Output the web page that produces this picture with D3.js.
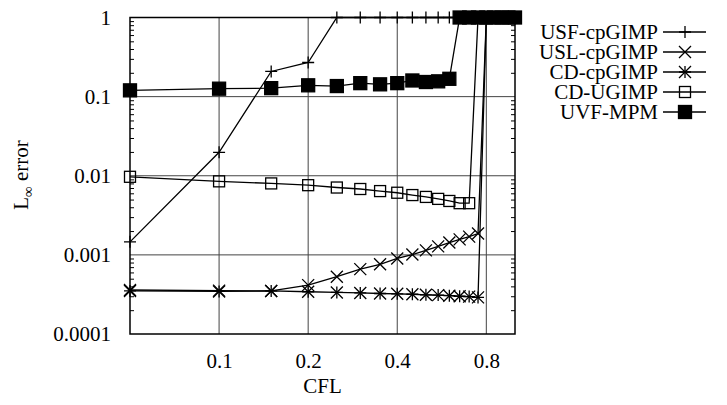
<!DOCTYPE html>
<html>
<head>
<meta charset="utf-8">
<script src="https://cdn.jsdelivr.net/npm/d3@7"></script>
<style>
	body { margin: 0; background: #fff; }
	svg { display: block; font-family: "Liberation Serif", "DejaVu Serif", serif; }
	.grid line { stroke: #444; stroke-width: 1; }
	.series path { fill: none; stroke: #000; stroke-width: 1.3; }
</style>
</head>
<body>
<div id="chart"></div>
<script>
"use strict";

const width = 727, height = 405;
const margin = { left: 130, right: 212, top: 17.5, bottom: 71 };
const fontSize = 21;

//  Chart data
const cfl = [0.05, 0.1, 0.15, 0.2, 0.25, 0.3, 0.35, 0.4, 0.45, 0.5, 0.55, 0.6, 0.65, 0.7, 0.75, 0.8, 0.85, 0.9, 0.95, 1.0];
const usfCpgimp = [0.00146, 0.0198, 0.208, 0.27, 1, 1, 1, 1, 1, 1, 1, 1, 1, 1, 1, 1, 1, 1, 1, 1];
const uslCpgimp = [0.00036, 0.000353, 0.00035, 0.000415, 0.00053, 0.00066, 0.00076, 0.0009, 0.00101, 0.00114, 0.00128, 0.00143, 0.00157, 0.0017, 0.00186, 1, 1, 1, 1, 1];
const cdCpgimp = [0.00035, 0.000345, 0.00035, 0.000342, 0.000335, 0.00033, 0.000325, 0.000322, 0.000318, 0.000313, 0.00031, 0.000305, 0.0003, 0.000297, 0.00029, 1, 1, 1, 1, 1];
const cdUgimp = [0.0097, 0.0085, 0.008, 0.0076, 0.0071, 0.0068, 0.0064, 0.0061, 0.0057, 0.0054, 0.0051, 0.0048, 0.0045, 0.0045, 1, 1, 1, 1, 1, 1];
const uvfMpm = [0.12, 0.126, 0.128, 0.139, 0.136, 0.148, 0.143, 0.148, 0.16, 0.153, 0.156, 0.168, 1, 1, 1, 1, 1, 1, 1, 1];

const xTicks = [0.1, 0.2, 0.4, 0.8];
const yTicks = [0.0001, 0.001, 0.01, 0.1, 1];
const yTickLabels = ['0.0001', '0.001', '0.01', '0.1', '1'];

const series = [
	{ name: 'USF-cpGIMP', values: usfCpgimp, marker: 'plus' },
	{ name: 'USL-cpGIMP', values: uslCpgimp, marker: 'cross' },
	{ name: 'CD-cpGIMP', values: cdCpgimp, marker: 'star' },
	{ name: 'CD-UGIMP', values: cdUgimp, marker: 'box' },
	{ name: 'UVF-MPM', values: uvfMpm, marker: 'filledBox' },
];

//  Scales
const x = d3.scaleLog().base(2)
	.domain([0.05, 1])
	.range([margin.left, width - margin.right]);

const y = d3.scaleLog()
	.domain([0.0001, 1])
	.range([height - margin.bottom, margin.top]);

const svg = d3.select('#chart').append('svg')
	.attr('width', width)
	.attr('height', height)
	.attr('viewBox', [0, 0, width, height]);

//  Grid
const grid = svg.append('g').classed('grid', true);
grid.selectAll('.vgrid')
	.data(xTicks)
	.join('line')
		.attr('x1', d => x(d)).attr('x2', d => x(d))
		.attr('y1', y.range()[0]).attr('y2', y.range()[1]);
grid.selectAll('.hgrid')
	.data(yTicks.slice(1, -1))
	.join('line')
		.attr('x1', x.range()[0]).attr('x2', x.range()[1])
		.attr('y1', d => y(d)).attr('y2', d => y(d));

//  Minor ticks on left and right, inside the frame
const minor = y.ticks().filter(t => !yTicks.some(m => Math.abs(m - t) / m < 1e-6));
svg.append('g')
	.call(d3.axisRight(y).tickValues(minor).tickSize(4).tickFormat(''))
	.attr('transform', `translate(${x.range()[0]},0)`)
	.call(g => g.select('.domain').remove());
svg.append('g')
	.call(d3.axisLeft(y).tickValues(minor).tickSize(4).tickFormat(''))
	.attr('transform', `translate(${x.range()[1]},0)`)
	.call(g => g.select('.domain').remove());

//  Tick labels
function styleLabels(g)
{
	g.attr('font-family', null).attr('font-size', fontSize);
	g.select('.domain').remove();
	g.selectAll('text').attr('fill', '#000');
}

svg.append('g')
	.attr('transform', `translate(0,${y.range()[0]})`)
	.call(d3.axisBottom(x).tickValues(xTicks).tickSize(0).tickPadding(19).tickFormat(d3.format('.1f')))
	.call(styleLabels);

svg.append('g')
	.attr('transform', `translate(${x.range()[0]},0)`)
	.call(d3.axisLeft(y).tickValues(yTicks).tickSize(0).tickPadding(19).tickFormat((d, i) => yTickLabels[i]))
	.call(styleLabels);

//  Frame
svg.append('rect')
	.attr('x', x.range()[0])
	.attr('y', y.range()[1])
	.attr('width', x.range()[1] - x.range()[0])
	.attr('height', y.range()[0] - y.range()[1])
	.attr('fill', 'none')
	.attr('stroke', '#000')
	.attr('stroke-width', 1.5);

//  Axis titles
svg.append('text')
	.attr('x', (x.range()[0] + x.range()[1]) / 2)
	.attr('y', 393)
	.attr('text-anchor', 'middle')
	.attr('font-size', fontSize)
	.text('CFL');

const yTitle = svg.append('text')
	.attr('transform', 'translate(28,175) rotate(-90)')
	.attr('text-anchor', 'middle')
	.attr('font-size', fontSize);
yTitle.append('tspan').text('L');
yTitle.append('tspan').attr('font-size', 15).attr('dy', 5).text('\u221e');
yTitle.append('tspan').attr('dy', -5).text(' error');

//  Markers
function drawMarker(g, type)
{
	const s = 6, b = 5.5, fb = 6.5;
	if (type === 'plus' || type === 'star')
		g.append('path').attr('d', `M${-s},0H${s}M0,${-s}V${s}`);
	if (type === 'cross' || type === 'star')
		g.append('path').attr('d', `M${-s},${-s}L${s},${s}M${-s},${s}L${s},${-s}`);
	if (type === 'box')
		g.append('rect').attr('x', -b).attr('y', -b).attr('width', 2 * b).attr('height', 2 * b).attr('fill', 'none');
	if (type === 'filledBox')
		g.append('rect').attr('x', -fb).attr('y', -fb).attr('width', 2 * fb).attr('height', 2 * fb).attr('fill', '#000');
}

const line = d3.line()
	.x(d => x(d[0]))
	.y(d => y(d[1]));

series.forEach(s =>
{
	const points = cfl.map((c, i) => [c, s.values[i]]);
	const g = svg.append('g').classed('series', true);
	g.append('path').attr('d', line(points));
	g.selectAll('.pt')
		.data(points)
		.join('g')
			.attr('transform', d => `translate(${x(d[0])},${y(d[1])})`)
			.attr('stroke', '#000')
			.attr('stroke-width', 1.3)
			.each(function() { drawMarker(d3.select(this), s.marker); });
});

//  Legend
const legend = svg.append('g')
	.selectAll('g')
	.data(series)
	.join('g')
		.attr('transform', (d, i) => `translate(0,${32 + i * 20})`);

legend.append('text')
	.attr('x', 658)
	.attr('dy', '0.33em')
	.attr('text-anchor', 'end')
	.attr('font-size', fontSize)
	.text(d => d.name);

legend.append('line')
	.attr('x1', 663).attr('x2', 706)
	.attr('stroke', '#000')
	.attr('stroke-width', 1.3);

legend.append('g')
	.attr('transform', 'translate(685,0)')
	.attr('stroke', '#000')
	.attr('stroke-width', 1.3)
	.each(function(d) { drawMarker(d3.select(this), d.marker); });
</script>
</body>
</html>
